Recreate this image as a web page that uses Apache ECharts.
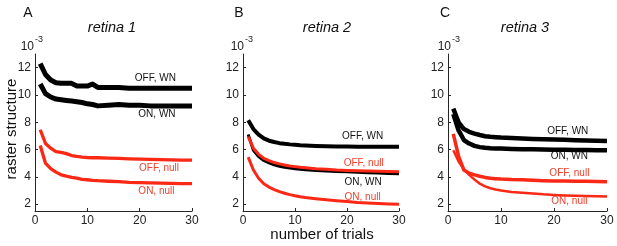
<!DOCTYPE html>
<html>
<head>
<meta charset="utf-8">
<script src="https://cdn.jsdelivr.net/npm/echarts@6/dist/echarts.min.js"></script>
<style>
  html, body { margin: 0; padding: 0; background: #fff; }
  #chart { width: 617px; height: 246px; }
</style>
</head>
<body>
<div id="chart"></div>
<script>
// number of trials (x values)
const trials = [1, 2, 3, 4, 5, 6, 7, 8, 9, 10, 11, 12, 14, 16, 18, 20, 22, 24, 26, 28, 30]
const yTicks = [2, 4, 6, 8, 10, 12]

// retina 1
const r1OffWN = [12.3, 11.5, 11.1, 10.9, 10.85, 10.85, 10.85, 10.65, 10.65, 10.65, 10.8, 10.55, 10.55, 10.55, 10.5, 10.5, 10.5, 10.5, 10.5, 10.5, 10.5]
const r1OnWN = [10.8, 10.1, 9.85, 9.7, 9.65, 9.6, 9.55, 9.5, 9.45, 9.35, 9.3, 9.2, 9.25, 9.3, 9.25, 9.25, 9.2, 9.2, 9.2, 9.2, 9.2]
const r1OffNull = [7.45, 6.45, 6.1, 5.85, 5.8, 5.7, 5.56, 5.5, 5.45, 5.42, 5.4, 5.4, 5.38, 5.35, 5.32, 5.3, 5.28, 5.26, 5.24, 5.22, 5.22]
const r1OnNull = [6.3, 5.0, 4.6, 4.35, 4.15, 4.05, 3.96, 3.9, 3.82, 3.79, 3.75, 3.72, 3.68, 3.65, 3.6, 3.58, 3.56, 3.54, 3.52, 3.5, 3.5]

// retina 2
const r2OffWN = [8.15, 7.5, 7.1, 6.82, 6.65, 6.55, 6.47, 6.42, 6.38, 6.35, 6.32, 6.3, 6.27, 6.25, 6.23, 6.22, 6.21, 6.2, 6.2, 6.2, 6.2]
const r2OnWN = [7.1, 5.95, 5.48, 5.2, 5.02, 4.88, 4.78, 4.7, 4.64, 4.6, 4.56, 4.52, 4.47, 4.43, 4.4, 4.37, 4.34, 4.31, 4.28, 4.25, 4.22]
const r2OffNull = [6.95, 6.1, 5.65, 5.36, 5.19, 5.05, 4.95, 4.87, 4.8, 4.75, 4.7, 4.67, 4.6, 4.55, 4.5, 4.47, 4.45, 4.43, 4.42, 4.4, 4.38]
const r2OnNull = [5.45, 4.5, 3.9, 3.5, 3.25, 3.07, 2.92, 2.8, 2.7, 2.62, 2.55, 2.49, 2.4, 2.32, 2.25, 2.19, 2.13, 2.09, 2.05, 2.02, 2.0]

// retina 3
const r3OffWN = [9.0, 8.0, 7.5, 7.3, 7.17, 7.07, 6.98, 6.94, 6.91, 6.88, 6.86, 6.84, 6.81, 6.78, 6.75, 6.73, 6.71, 6.69, 6.67, 6.65, 6.63]
const r3OnWN = [8.6, 7.4, 6.7, 6.44, 6.27, 6.18, 6.13, 6.1, 6.08, 6.07, 6.06, 6.05, 6.03, 6.02, 6.0, 5.99, 5.98, 5.97, 5.96, 5.95, 5.95]
const r3OffNull = [7.15, 5.5, 4.5, 4.27, 4.15, 4.05, 3.96, 3.9, 3.87, 3.84, 3.82, 3.8, 3.78, 3.75, 3.72, 3.7, 3.69, 3.68, 3.67, 3.66, 3.65]
const r3OnNull = [5.95, 5.12, 4.56, 4.15, 3.8, 3.5, 3.3, 3.17, 3.07, 3.0, 2.95, 2.9, 2.84, 2.79, 2.72, 2.68, 2.64, 2.61, 2.59, 2.58, 2.57]

const FONT = '"Liberation Sans", Arial, sans-serif'
const BLACK = '#000000'
const RED = '#fa2814'
const RED_TEXT = '#f0402c'
const AXIS = '#262626'

const panels = [
  { left: 35, width: 157, title: 'retina 1', letter: 'A', letterX: 28, titleX: 112, expX: 34,
    series: [
      { name: 'OFF, WN', data: r1OffWN, color: BLACK, width: 5, at: [23, 11.25] },
      { name: 'ON, WN', data: r1OnWN, color: BLACK, width: 5, at: [23.3, 8.6] },
      { name: 'OFF, null', data: r1OffNull, color: RED, width: 3.3, at: [23.7, 4.6] },
      { name: 'ON, null', data: r1OnNull, color: RED, width: 3.3, at: [23.2, 2.95] }
    ] },
  { left: 243, width: 156, title: 'retina 2', letter: 'B', letterX: 239, titleX: 327, expX: 244,
    series: [
      { name: 'OFF, WN', data: r2OffWN, color: BLACK, width: 4, at: [23, 6.95] },
      { name: 'ON, WN', data: r2OnWN, color: BLACK, width: 3, at: [23.1, 3.62] },
      { name: 'OFF, null', data: r2OffNull, color: RED, width: 3, at: [23.2, 5.0] },
      { name: 'ON, null', data: r2OnNull, color: RED, width: 3, at: [23, 2.53] }
    ] },
  { left: 448, width: 159, title: 'retina 3', letter: 'C', letterX: 445, titleX: 525, expX: 451,
    series: [
      { name: 'OFF, WN', data: r3OffWN, color: BLACK, width: 4.5, at: [22.6, 7.31] },
      { name: 'ON, WN', data: r3OnWN, color: BLACK, width: 4.5, at: [22.9, 5.49] },
      { name: 'OFF, null', data: r3OffNull, color: RED, width: 3.5, at: [22.9, 4.23] },
      { name: 'ON, null', data: r3OnNull, color: RED, width: 2.5, at: [22.9, 2.2] }
    ] }
]

const chart = echarts.init(document.getElementById('chart'))

let grids = [], xAxes = [], yAxes = [], series = [], graphics = []
panels.forEach((p, i) => {
  grids.push({ left: p.left, top: 54, width: p.width, height: 157 })
  xAxes.push({
    type: 'value', gridIndex: i, min: 0, max: 30, interval: 10,
    axisLine: { show: true, onZero: false, lineStyle: { color: AXIS, width: 1 } },
    axisTick: { show: true, inside: true, length: 3, lineStyle: { color: AXIS } },
    axisLabel: { color: '#222', fontSize: 12, fontFamily: FONT, margin: 4 },
    splitLine: { show: false }
  })
  yAxes.push({
    type: 'value', gridIndex: i, min: 1.5, max: 13,
    axisLine: { show: true, onZero: false, lineStyle: { color: AXIS, width: 1 } },
    axisTick: { show: true, inside: true, length: 3, customValues: yTicks, lineStyle: { color: AXIS } },
    axisLabel: { color: '#222', fontSize: 12, fontFamily: FONT, margin: 4, customValues: yTicks },
    splitLine: { show: false }
  })
  p.series.forEach(s => {
    const isRed = s.color === RED
    series.push({
      type: 'line', name: s.name, xAxisIndex: i, yAxisIndex: i,
      data: trials.map((t, j) => [t, s.data[j]]),
      showSymbol: false, symbol: 'none',
      lineStyle: { color: s.color, width: s.width, join: 'round' },
      z: isRed ? 3 : 2,
      markPoint: {
        symbol: 'circle', symbolSize: 1, silent: true,
        itemStyle: { color: 'rgba(0,0,0,0)' },
        label: { show: true, position: 'inside', formatter: s.name, color: isRed ? RED_TEXT : '#111',
          fontSize: 10, fontFamily: FONT },
        data: [{ name: s.name, coord: s.at }]
      }
    })
  })
  graphics.push(
    { type: 'text', x: p.letterX, y: 13, style: { text: p.letter, font: '14px ' + FONT, fill: '#111', align: 'center', verticalAlign: 'middle' } },
    { type: 'text', x: p.titleX, y: 28, style: { text: p.title, font: 'italic 14.5px ' + FONT, fill: '#111', align: 'center', verticalAlign: 'middle' } },
    { type: 'text', x: p.expX, y: 47, style: { text: '10', font: '12px ' + FONT, fill: '#222', align: 'right', verticalAlign: 'middle' } },
    { type: 'text', x: p.expX + 1, y: 40, style: { text: '-3', font: '9px ' + FONT, fill: '#222', align: 'left', verticalAlign: 'middle' } }
  )
})

graphics.push(
  { type: 'text', x: 12, y: 129, rotation: Math.PI / 2, style: { text: 'raster structure', font: '15px ' + FONT, fill: '#111', align: 'center', verticalAlign: 'middle' } },
  { type: 'text', x: 322, y: 235, style: { text: 'number of trials', font: '15px ' + FONT, fill: '#111', align: 'center', verticalAlign: 'middle' } }
)

chart.setOption({
  animation: false,
  grid: grids,
  xAxis: xAxes,
  yAxis: yAxes,
  series: series,
  graphic: graphics
})
</script>
</body>
</html>
